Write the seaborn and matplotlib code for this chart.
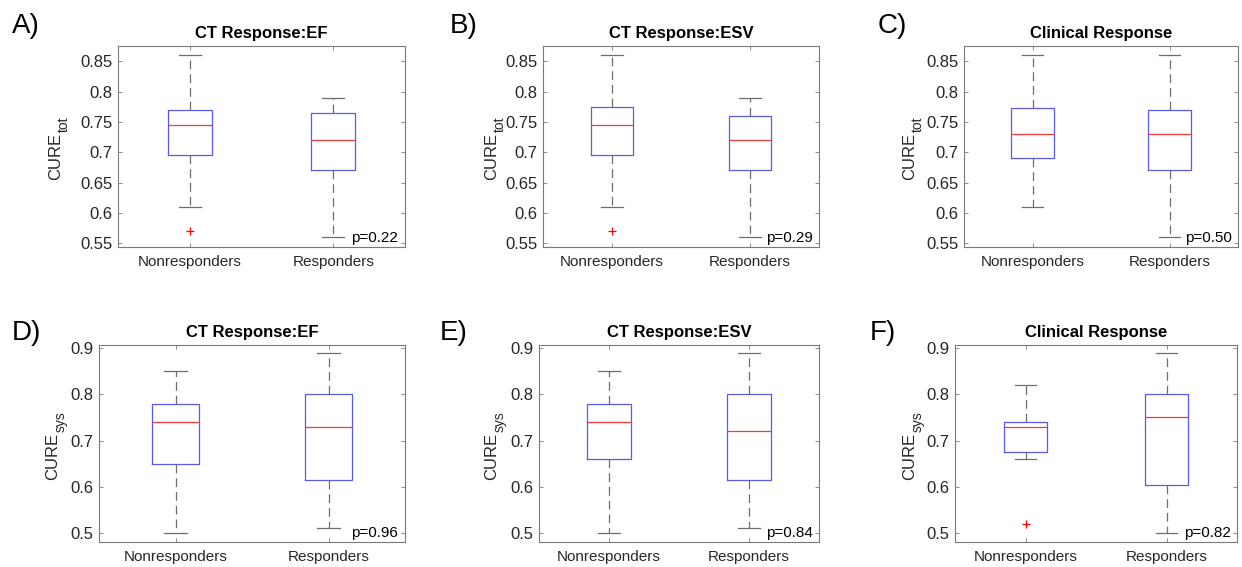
import matplotlib
matplotlib.use("Agg")
import matplotlib.pyplot as plt
import seaborn as sns
import pandas as pd
from matplotlib.ticker import FixedLocator, FuncFormatter

# ---------------- data ----------------
groups = ["Nonresponders", "Responders"]
panel_letters = ["A)", "B)", "C)", "D)", "E)", "F)"]
panel_titles = ["CT Response:EF", "CT Response:ESV", "Clinical Response",
                "CT Response:EF", "CT Response:ESV", "Clinical Response"]
ylabel_main = ["CURE"] * 6
ylabel_sub = ["tot", "tot", "tot", "sys", "sys", "sys"]
p_values = ["p=0.22", "p=0.29", "p=0.50", "p=0.96", "p=0.84", "p=0.82"]

# per panel: [Nonresponders, Responders]
whisker_low = [[0.61, 0.56], [0.61, 0.56], [0.61, 0.56],
               [0.50, 0.51], [0.50, 0.51], [0.66, 0.50]]
quart_1 = [[0.695, 0.670], [0.695, 0.670], [0.690, 0.670],
           [0.650, 0.615], [0.660, 0.615], [0.675, 0.603]]
medians = [[0.745, 0.720], [0.745, 0.720], [0.730, 0.730],
           [0.740, 0.730], [0.740, 0.720], [0.730, 0.750]]
quart_3 = [[0.770, 0.765], [0.775, 0.760], [0.773, 0.770],
           [0.780, 0.800], [0.780, 0.800], [0.741, 0.800]]
whisker_high = [[0.86, 0.79], [0.86, 0.79], [0.86, 0.86],
                [0.85, 0.89], [0.85, 0.89], [0.82, 0.89]]
outliers = [[[0.57], []], [[0.57], []], [[], []],
            [[], []], [[], []], [[0.52], []]]

top_ticks = [0.55, 0.60, 0.65, 0.70, 0.75, 0.80, 0.85]
bottom_ticks = [0.5, 0.6, 0.7, 0.8, 0.9]
top_ylim = (0.544, 0.875)
bottom_ylim = (0.480, 0.907)

# ---------------- layout (pixels in a 1242x567 canvas) ----------------
W, H = 1242, 567
axes_px = [(118, 405, 46, 247), (543, 819, 46, 247), (964, 1238, 46, 247),
           (99, 405, 345, 542), (539, 819, 345, 542), (955, 1237, 345, 542)]
ylabel_base_px = [60, 496, 914, 57, 496, 914]   # baseline x of "CURE"
ylabel_center_frac = [0.45, 0.45, 0.45, 0.435, 0.435, 0.435]
letter_px = [(12, 33), (450, 33), (878, 33), (12, 340), (440, 340), (870, 340)]

plt.rcParams["font.family"] = ["Liberation Sans", "DejaVu Sans"]

fig = plt.figure(figsize=(W / 100, H / 100), dpi=100)
fig.patch.set_facecolor("white")

spine_col = "#7a7a7a"
text_col = "#262626"
label_texts = []

for i in range(6):
    l, r, t, b = axes_px[i]
    ax = fig.add_axes([l / W, 1 - b / H, (r - l) / W, (b - t) / H])

    # representative samples reproducing the read box statistics
    rows = []
    for g, name in enumerate(groups):
        lo, q1, md, q3, hi = (whisker_low[i][g], quart_1[i][g], medians[i][g],
                              quart_3[i][g], whisker_high[i][g])
        vals = [lo, lo, q1, q1, md, q3, q3, hi, hi]
        if outliers[i][g]:
            vals = outliers[i][g] + vals[1:]
        rows += [(name, v) for v in vals]
    df = pd.DataFrame(rows, columns=["group", "value"])

    sns.boxplot(data=df, x="group", y="value", order=groups, ax=ax,
                width=0.31, fill=False, whis=1.5, linewidth=0.8,
                boxprops=dict(color="#5a5af0", linewidth=0.9),
                medianprops=dict(color="#ee3b3b", linewidth=0.9),
                whiskerprops=dict(color="#6e6e6e", linewidth=0.9,
                                  linestyle=(0, (7, 4))),
                capprops=dict(color="#6e6e6e", linewidth=0.9),
                flierprops=dict(marker="+", markeredgecolor="red",
                                markerfacecolor="red", markersize=6,
                                markeredgewidth=0.9, linestyle="none"))

    ax.set_xlim(-0.5, 1.5)
    if i < 3:
        ax.set_ylim(*top_ylim)
        ax.yaxis.set_major_locator(FixedLocator(top_ticks))
    else:
        ax.set_ylim(*bottom_ylim)
        ax.yaxis.set_major_locator(FixedLocator(bottom_ticks))
    ax.yaxis.set_major_formatter(FuncFormatter(lambda v, p: f"{v:g}"))

    ax.set_xlabel("")
    ax.set_ylabel(ylabel_main[i], fontsize=12, color=text_col,
                  rotation=90, rotation_mode="anchor",
                  ha="center", va="baseline")
    ax.yaxis.set_label_coords((ylabel_base_px[i] - l) / (r - l),
                              ylabel_center_frac[i])
    label_texts.append((ax, ylabel_sub[i], ylabel_base_px[i]))

    ax.set_title(panel_titles[i], fontsize=12, fontweight="bold",
                 color="black", pad=6)

    for s in ax.spines.values():
        s.set_color(spine_col)
        s.set_linewidth(0.8)
        s.set_visible(True)
    ax.set_facecolor("white")
    ax.tick_params(direction="in", length=3, width=0.6, color=spine_col,
                   top=True, right=True, labelsize=12, labelcolor=text_col)
    ax.tick_params(axis="x", pad=6, labelsize=11)
    ax.tick_params(axis="y", pad=4)
    ax.grid(False)

    ax.text(0.977, 0.012, p_values[i], transform=ax.transAxes,
            ha="right", va="bottom", fontsize=11, color="black")

    lx, ly = letter_px[i]
    fig.text(lx / W, 1 - ly / H, panel_letters[i], fontsize=20,
             ha="left", va="baseline", color="black")

# subscripts placed after measuring the main label text
fig.canvas.draw()
for ax, sub, base_px in label_texts:
    bb = ax.yaxis.label.get_window_extent()
    x_disp = base_px + 8          # 8 px below the baseline (right, rotated)
    y_disp = bb.y1 + 1
    xa, ya = ax.transAxes.inverted().transform((x_disp, y_disp))
    ax.text(xa, ya, sub, transform=ax.transAxes, fontsize=10, color=text_col,
            rotation=90, rotation_mode="anchor", ha="left", va="baseline",
            clip_on=False)

fig.savefig("out.png", dpi=100, facecolor="white")
